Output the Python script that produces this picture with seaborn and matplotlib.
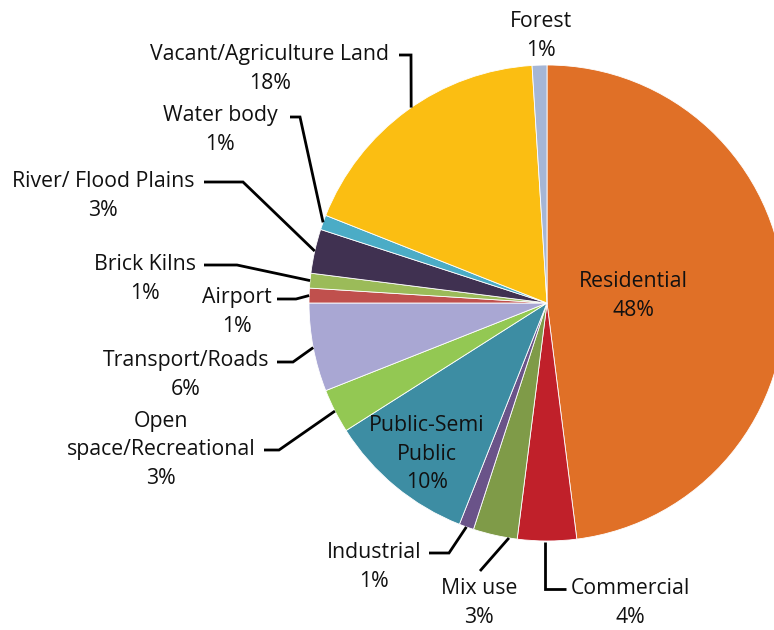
import numpy as np
import matplotlib
matplotlib.use("Agg")
import matplotlib.pyplot as plt
import seaborn as sns

# Land use shares (%), clockwise from 12 o'clock
categories = ["Residential", "Commercial", "Mix use", "Industrial",
              "Public-Semi\nPublic", "Open\nspace/Recreational", "Transport/Roads",
              "Airport", "Brick Kilns", "River/ Flood Plains", "Water body",
              "Vacant/Agriculture Land", "Forest"]
shares = [48, 4, 3, 1, 10, 3, 6, 1, 1, 3, 1, 18, 1]
colors = ["#E07027", "#C0202A", "#7F9B48", "#6A5389", "#3D8DA3", "#93C853",
          "#A9A7D3", "#C0504D", "#9BBB59", "#403151", "#4BACC6", "#FBBE12",
          "#A5B6D6"]

W, H = 774, 630
sns.set_theme(style="white")
plt.rcParams["font.family"] = ["Open Sans", "DejaVu Sans"]

fig = plt.figure(figsize=(W / 100, H / 100), dpi=100)
ax = fig.add_axes([0, 0, 1, 1])

cx, cy, R = 547, H - 303, 238
wedges, _ = ax.pie(shares, colors=colors, startangle=90, counterclock=False,
                   center=(cx, cy), radius=R, frame=True,
                   wedgeprops=dict(linewidth=0.6, edgecolor="white"))
ax.set_xlim(0, W)
ax.set_ylim(0, H)
ax.set_aspect("equal")
ax.axis("off")


def P(px, py):
    return px, H - py


def edge_point(w, dtheta=0.0, r=1.0):
    ang = np.deg2rad((w.theta1 + w.theta2) / 2 + dtheta)
    return cx + R * r * np.cos(ang), cy + R * r * np.sin(ang)


FS = 15.3
lbl = dict(ha="center", va="center", fontsize=FS, color="#111111", linespacing=1.45)

# (index, label centre in px, elbow path in px, angular nudge of the leader tip)
outside = [
    (12, (541, 36), None, 0),
    (11, (270, 69), [(399, 55), (411, 55)], -1.2),
    (10, (220, 130), [(290, 117), (300, 117)], 0),
    (9, (103, 196), [(204, 182), (243, 182)], 0),
    (8, (145, 279), [(204, 265), (237, 265)], 0),
    (7, (237, 312), [(277, 299), (296, 299)], 0),
    (6, (186, 375), [(277, 362), (293, 362)], 0),
    (5, (161, 450), [(264, 450), (279, 450)], 0),
    (3, (374, 567), [(429, 553), (449, 553)], 0),
    (2, (479, 603), [(480, 571)], 3.4),
    (1, (630, 603), [(566, 589), (545, 589)], 0),
]

for i, (tx, ty), path, dth in outside:
    text = f"{categories[i]}\n{shares[i]}%"
    ax.text(*P(tx, ty), text, **lbl)
    if path:
        pts = [P(*p) for p in path]
        ex, ey = edge_point(wedges[i], dth)
        if i == 1:
            ex, ey = pts[-1][0], cy - R - 1
        xs = [p[0] for p in pts] + [ex]
        ys = [p[1] for p in pts] + [ey]
        ax.plot(xs, ys, color="black", lw=2, solid_joinstyle="miter",
                solid_capstyle="butt", clip_on=False)

# labels drawn inside their wedges
ax.text(*P(633, 296), f"{categories[0]}\n{shares[0]}%", **lbl)
ax.text(*P(427, 454), f"{categories[4]}\n{shares[4]}%", **lbl)

fig.savefig("out.png", dpi=100, facecolor="white")
